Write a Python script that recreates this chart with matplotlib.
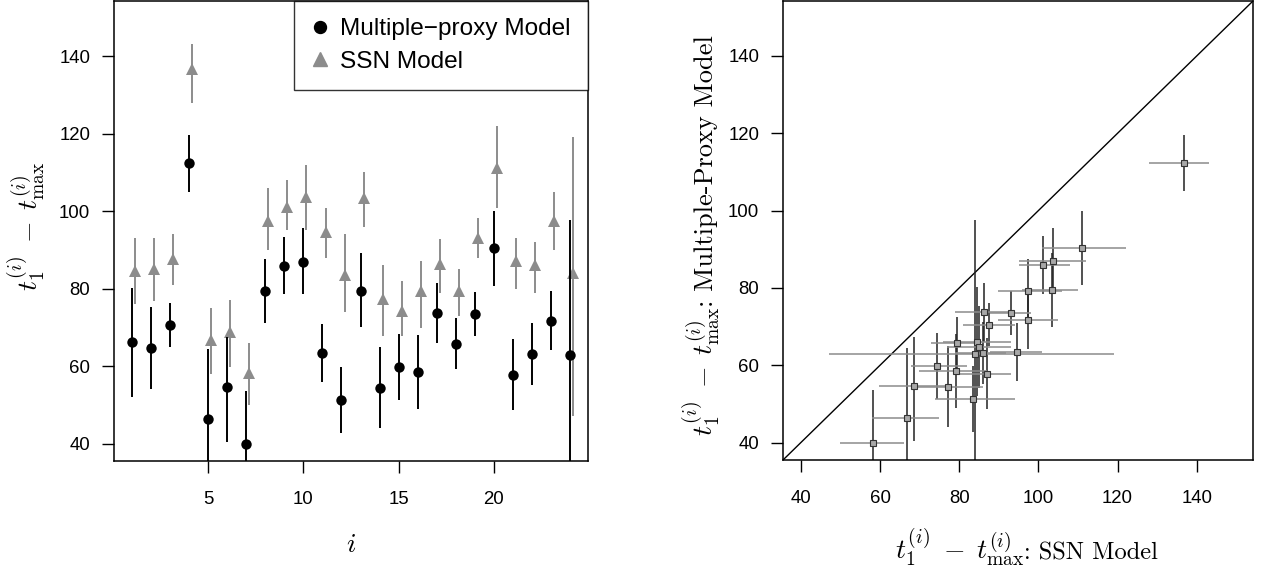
import numpy as np
import matplotlib
matplotlib.use("Agg")
import matplotlib.pyplot as plt
from matplotlib.lines import Line2D

plt.rcParams['font.family'] = ['Liberation Sans', 'DejaVu Sans']
plt.rcParams['mathtext.fontset'] = 'cm'

# index of each cycle
idx = np.arange(1, 25)

# multiple-proxy model: estimate and interval
mp_est = [66.1, 64.7, 70.5, 112.3, 46.4, 54.6, 40.0, 79.3, 85.9, 86.9, 63.4, 51.2,
          79.4, 54.4, 59.8, 58.4, 73.7, 65.8, 73.5, 90.4, 57.8, 63.1, 71.7, 62.8]
mp_lo = [52.1, 54.1, 64.9, 105.0, 28.0, 40.3, 30.0, 71.0, 78.5, 78.5, 55.9, 42.7,
         70.0, 44.0, 51.3, 48.9, 66.0, 59.2, 67.8, 80.7, 48.6, 55.2, 64.2, 20.0]
mp_hi = [80.2, 75.2, 76.2, 119.6, 64.4, 67.4, 53.6, 87.5, 93.4, 95.5, 70.9, 59.8,
         89.1, 64.9, 68.3, 68.0, 81.4, 72.4, 79.2, 100.0, 67.0, 71.1, 79.3, 97.6]

# SSN model: estimate and interval
ssn_est = [84.5, 85.0, 87.5, 136.7, 66.7, 68.7, 58.3, 97.5, 101.1, 103.7, 94.7, 83.5,
           103.4, 77.2, 74.3, 79.3, 86.3, 79.4, 93.1, 111.0, 87.0, 86.1, 97.4, 84.1]
ssn_lo = [75.9, 76.9, 80.9, 128.0, 57.9, 59.8, 50.0, 89.9, 95.1, 95.1, 87.9, 73.9,
          95.9, 67.8, 67.8, 69.9, 78.9, 72.9, 87.8, 100.9, 79.9, 78.9, 89.9, 47.1]
ssn_hi = [93.0, 93.0, 94.0, 143.0, 74.9, 77.0, 66.0, 106.0, 108.0, 112.0, 100.9, 94.0,
          110.0, 86.1, 82.0, 87.0, 92.9, 85.0, 98.1, 122.0, 93.0, 91.9, 104.9, 119.1]

mp_est, mp_lo, mp_hi = map(np.array, (mp_est, mp_lo, mp_hi))
ssn_est, ssn_lo, ssn_hi = map(np.array, (ssn_est, ssn_lo, ssn_hi))

grey = '#8c8c8c'
lims = (35.5, 154.2)
ticks = [40, 60, 80, 100, 120, 140]

W, H = 1262, 567
fig = plt.figure(figsize=(W / 100, H / 100), dpi=100)
ax1 = fig.add_axes([114 / W, 106 / H, 474 / W, 460 / H])
ax2 = fig.add_axes([783 / W, 107 / H, 470 / W, 459 / H])

for ax in (ax1, ax2):
    for s in ax.spines.values():
        s.set_linewidth(1.1)
    ax.tick_params(direction='out', length=8.6, width=1.0, labelsize=13.4)
    ax.tick_params(axis='y', pad=8.5)
    ax.tick_params(axis='x', pad=13)
    ax.set_ylim(lims)
    ax.set_yticks(ticks)

# left: estimates per cycle
off = 0.16
ax1.vlines(idx + off, ssn_lo, ssn_hi, color=grey, lw=1.4)
ax1.plot(idx + off, ssn_est, '^', color=grey, ms=8.5, mew=0)
ax1.vlines(idx, mp_lo, mp_hi, color='black', lw=1.4)
ax1.plot(idx, mp_est, 'o', color='black', ms=7.5, mew=0)
ax1.set_xlim(0.04, 24.96)
ax1.set_xticks([5, 10, 15, 20])

handles = [Line2D([], [], ls='none', marker='o', color='black', ms=8.6),
           Line2D([], [], ls='none', marker='^', color=grey, ms=10)]
leg = ax1.legend(handles, ['Multiple\u2212proxy Model', 'SSN Model'], loc='upper right',
                 fontsize=17.6, frameon=True, fancybox=False, borderaxespad=0,
                 handletextpad=0.45, handlelength=0.75, borderpad=0.7, labelspacing=0.42)
leg.get_frame().set_edgecolor('black')
leg.get_frame().set_linewidth(1.0)

# right: SSN vs multiple-proxy
ax2.plot(lims, lims, color='black', lw=1.0)
ax2.vlines(ssn_est, mp_lo, mp_hi, color='#222222', lw=1.1)
ax2.hlines(mp_est, ssn_lo, ssn_hi, color=grey, lw=1.1)
ax2.plot(ssn_est, mp_est, 's', ms=4.2, mfc='#a8a8a8', mec='#333333', mew=0.8)
ax2.set_xlim(lims)
ax2.set_xticks(ticks)

# axis labels: math part and roman text part set separately
lab = r'$t_1^{(i)}\;-\;t_{\max}^{(i)}$'
msize, tsize = 20, 17.6
fig.text(38 / W, 1 - 226 / H, lab, rotation=90, rotation_mode='anchor',
         ha='center', va='baseline', fontsize=msize)
fig.text(351 / W, 1 - 552 / H, r'$i$', ha='center', va='baseline', fontsize=msize)

fig.text(1024 / W, 1 - 559 / H, lab, ha='right', va='baseline', fontsize=msize)
fig.text(1024 / W, 1 - 559 / H, ': SSN Model', ha='left', va='baseline',
         fontsize=tsize, family='cmr10')

fig.text(713 / W, 1 - 307 / H, lab, rotation=90, rotation_mode='anchor',
         ha='right', va='baseline', fontsize=msize)
fig.text(713 / W, 1 - 307 / H, ': Multiple-Proxy Model', rotation=90,
         rotation_mode='anchor', ha='left', va='baseline', fontsize=19, family='cmr10')

fig.savefig('out.png', dpi=100)
